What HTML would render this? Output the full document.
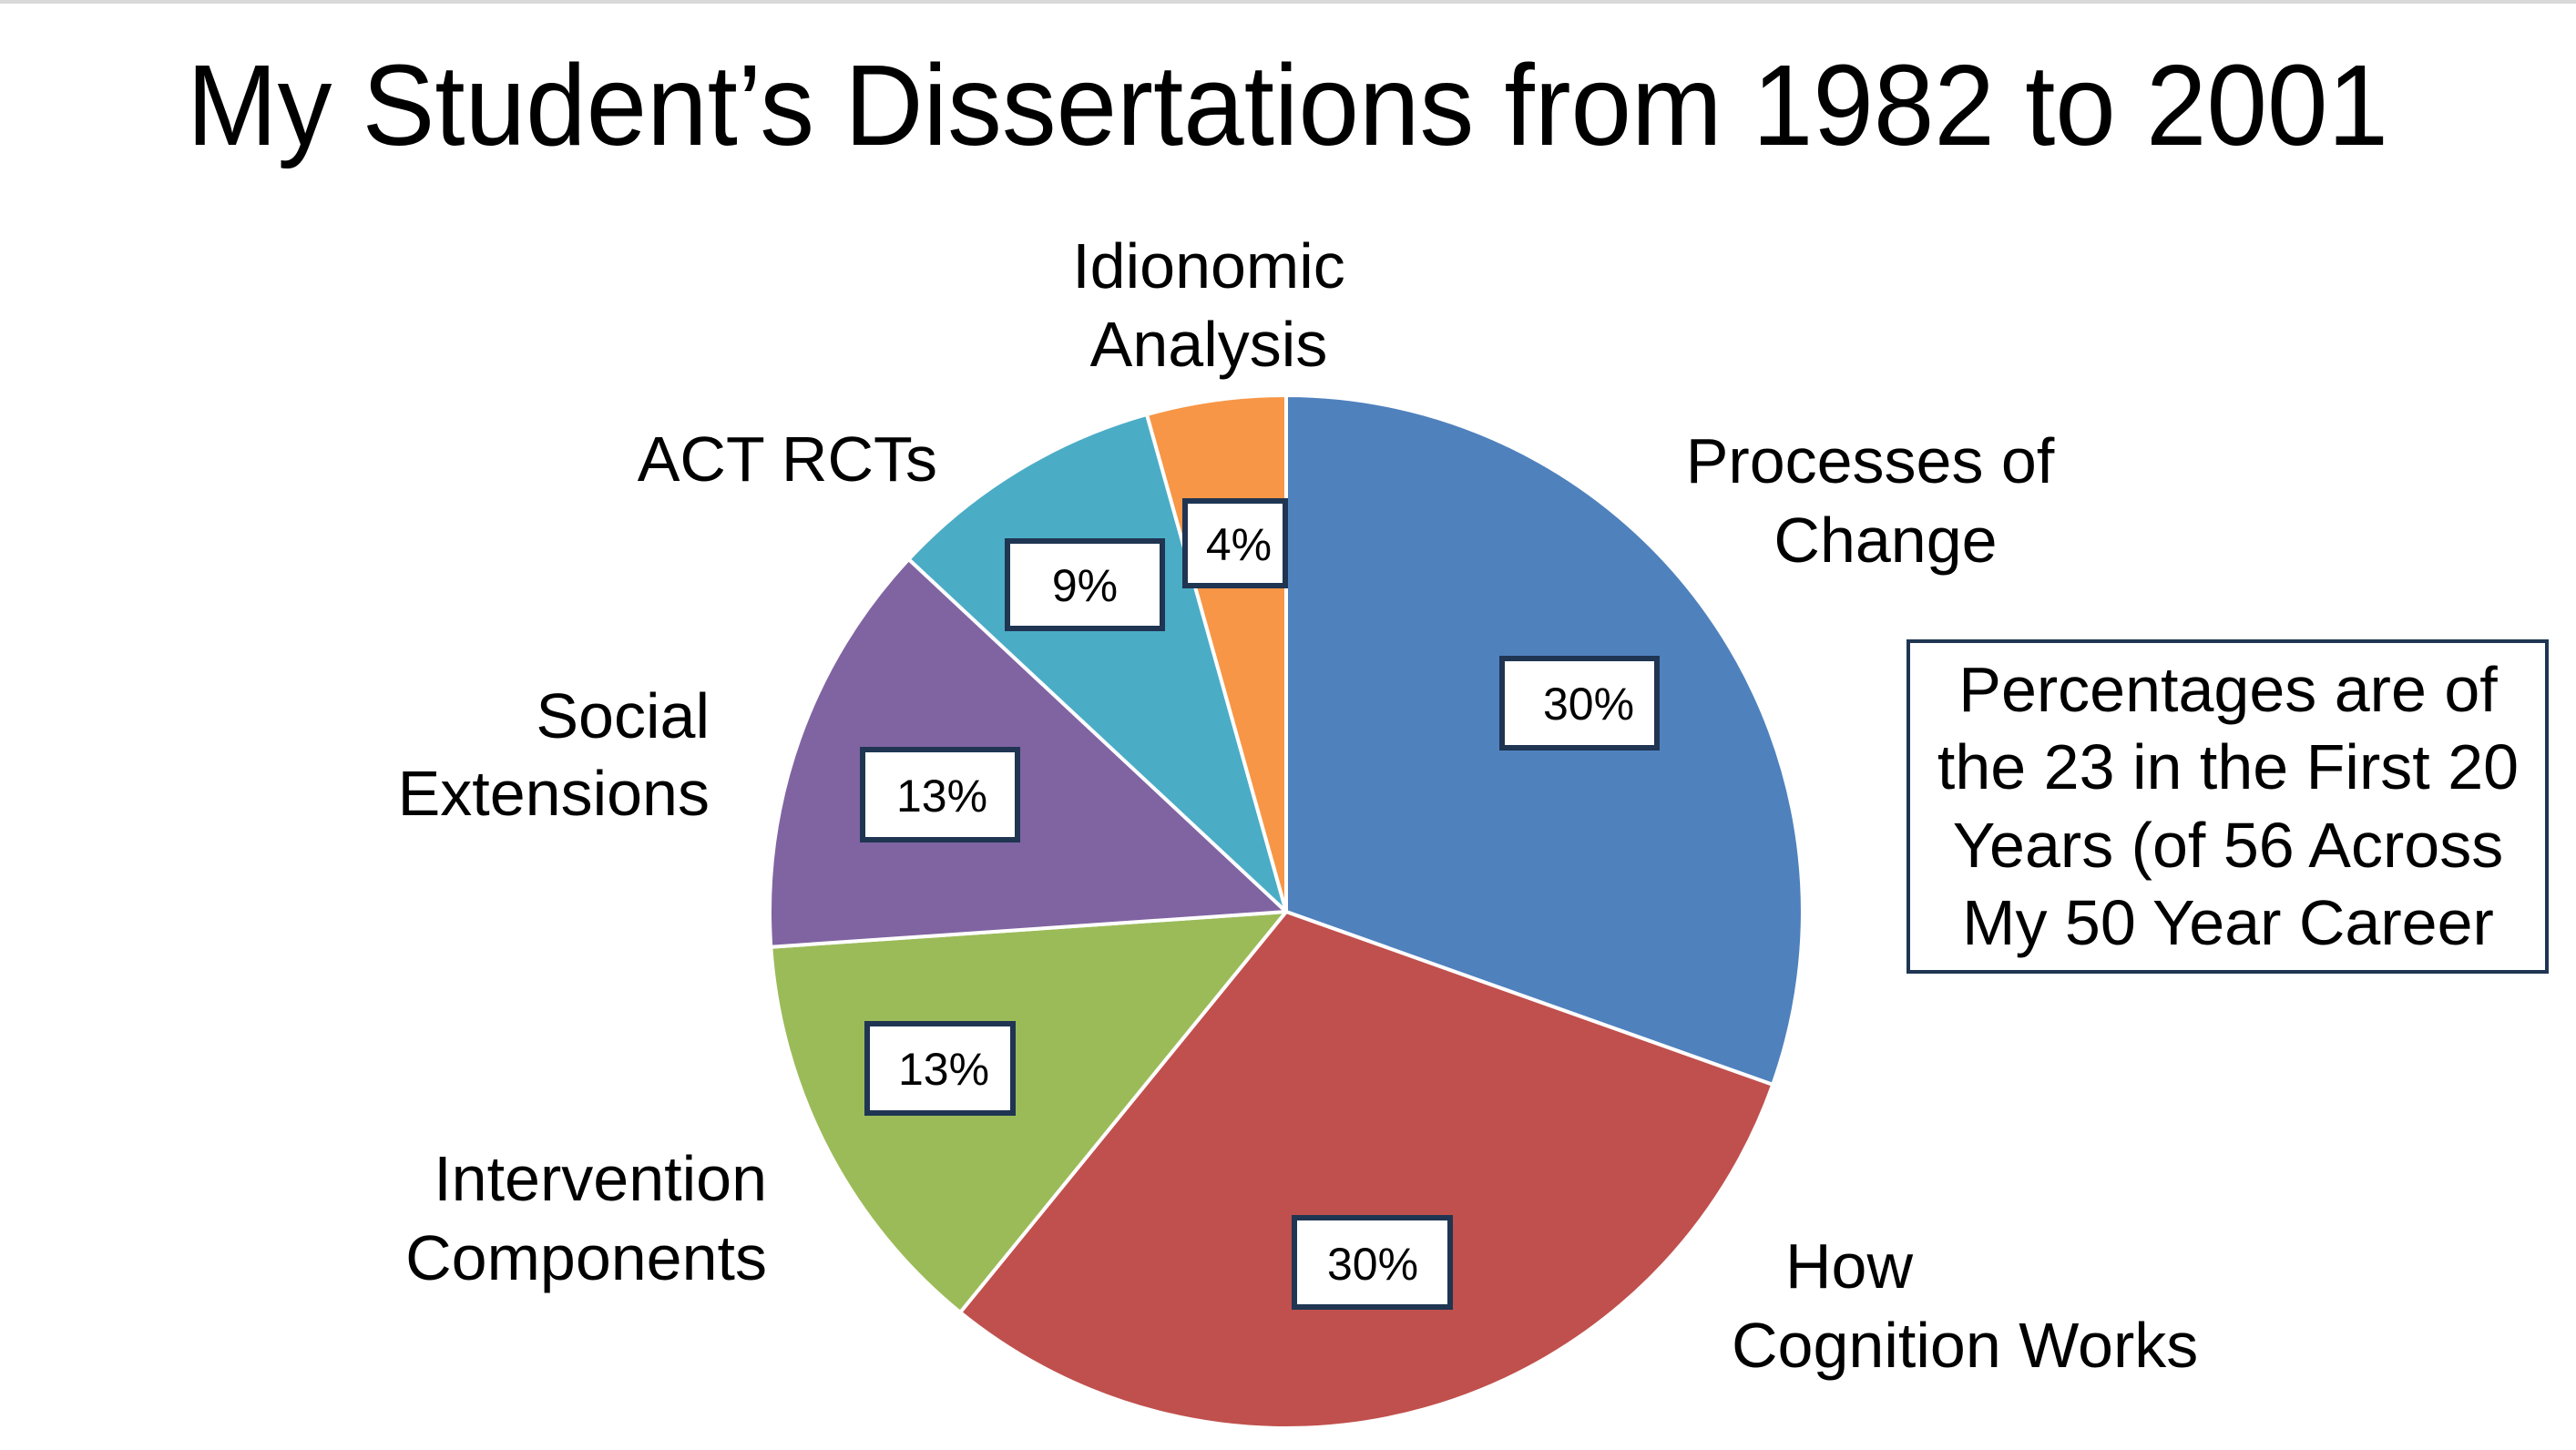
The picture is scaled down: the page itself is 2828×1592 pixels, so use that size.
<!DOCTYPE html>
<html><head><meta charset="utf-8"><style>
html,body{margin:0;padding:0;background:#fff;width:2828px;height:1592px;overflow:hidden}
svg{display:block}
text{font-family:"Liberation Sans",Arial,sans-serif;fill:#000}
</style></head><body>
<svg width="2828" height="1592" viewBox="0 0 2828 1592" xmlns="http://www.w3.org/2000/svg">
<rect x="0" y="0" width="2828" height="4" fill="#d9d9d9"/>
<text x="205" y="159" font-size="126" textLength="2417" lengthAdjust="spacingAndGlyphs">My Student’s Dissertations from 1982 to 2001</text>
<g stroke="#fff" stroke-width="4" stroke-linejoin="round">
<path d="M1412,1001 L1412,434 A567,567 0 0 1 1946.2,1190.9 Z" fill="#4F81BD"/>
<path d="M1412,1001 L1946.2,1190.9 A567,567 0 0 1 1054.2,1440.9 Z" fill="#C0504D"/>
<path d="M1412,1001 L1054.2,1440.9 A567,567 0 0 1 846.3,1039.7 Z" fill="#9BBB59"/>
<path d="M1412,1001 L846.3,1039.7 A567,567 0 0 1 997.6,614.0 Z" fill="#8064A2"/>
<path d="M1412,1001 L997.6,614.0 A567,567 0 0 1 1259.0,455.0 Z" fill="#4BACC6"/>
<path d="M1412,1001 L1259.0,455.0 A567,567 0 0 1 1412,434 Z" fill="#F79646"/>
</g>
<g fill="#fff" stroke="#1F3552" stroke-width="6">
<rect x="1649" y="723" width="170" height="98"/>
<rect x="1301" y="550" width="110" height="93"/>
<rect x="1106" y="594" width="170" height="96"/>
<rect x="947" y="823" width="170" height="99"/>
<rect x="952" y="1124" width="160" height="98"/>
<rect x="1421" y="1337" width="171" height="98"/>
</g>
<g font-size="50" text-anchor="middle">
<text x="1744" y="790">30%</text>
<text x="1360" y="615">4%</text>
<text x="1191" y="660">9%</text>
<text x="1034" y="891">13%</text>
<text x="1036" y="1191">13%</text>
<text x="1507" y="1405">30%</text>
</g>
<g font-size="70">
<text x="1327" y="316" text-anchor="middle">Idionomic</text>
<text x="1327" y="402" text-anchor="middle">Analysis</text>
<text x="2053" y="530" text-anchor="middle">Processes of</text>
<text x="2070" y="617" text-anchor="middle">Change</text>
<text x="1029" y="528" text-anchor="end">ACT RCTs</text>
<text x="779" y="810" text-anchor="end">Social</text>
<text x="779" y="895" text-anchor="end">Extensions</text>
<text x="842" y="1318" text-anchor="end">Intervention</text>
<text x="842" y="1405" text-anchor="end">Components</text>
<text x="1960" y="1414">How</text>
<text x="1901" y="1501">Cognition Works</text>
</g>
<rect x="2095" y="704" width="701" height="363" fill="#fff" stroke="#1F3552" stroke-width="4"/>
<g font-size="70" text-anchor="middle">
<text x="2446" y="781">Percentages are of</text>
<text x="2446" y="866">the 23 in the First 20</text>
<text x="2446" y="952">Years (of 56 Across</text>
<text x="2446" y="1037">My 50 Year Career</text>
</g>
</svg>
</body></html>
